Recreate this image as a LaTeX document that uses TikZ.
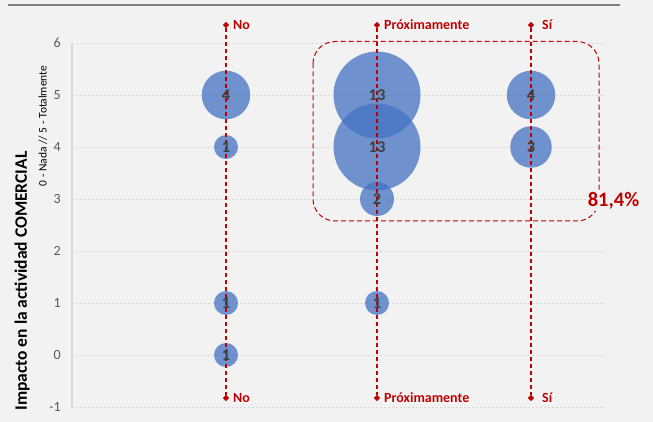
\documentclass[tikz,border=0pt]{standalone}
\usepackage{fontspec}
\setmainfont{Carlito}
\usetikzlibrary{shapes.geometric}
\definecolor{bg}{HTML}{F2F2F2}
\definecolor{redc}{HTML}{C00000}
\definecolor{bub}{HTML}{4472C4}
\definecolor{grid}{HTML}{D9D9D9}
\definecolor{tick}{HTML}{595959}
\definecolor{numc}{HTML}{404040}
\definecolor{topline}{HTML}{808080}
\tikzset{
  bubble/.style={circle, fill=bub, fill opacity=0.75, draw=none, inner sep=0pt, minimum size=#1},
  bnum/.style={text=numc, font=\fontsize{16.5}{16.5}\selectfont\bfseries, inner sep=0pt},
  marker/.style={diamond, fill=redc, draw=none, inner sep=0pt, minimum size=6.5pt},
  catlbl/.style={anchor=west, text=redc, font=\fontsize{14}{14}\selectfont\bfseries, fill=white, fill opacity=0.35, text opacity=1, inner sep=1.5pt},
  catline/.style={draw=redc, line width=1.2pt, dash pattern=on 4pt off 3pt},
  gridline/.style={draw=grid, line width=0.8pt, dash pattern=on 2pt off 2pt},
  ticklbl/.style={anchor=east, text=tick, font=\fontsize{14}{14}\selectfont, inner sep=0pt},
}
\begin{document}
\begin{tikzpicture}[x=1pt,y=-1pt]
\useasboundingbox (0,0) rectangle (653,422);
\fill[bg] (0,0) rectangle (653,422);
% top line
\draw[topline, line width=2.5pt] (8,5) -- (620,5);
% gridlines and ticks
\foreach \v/\yy in {6/43,5/95,4/147,3/199,2/251,1/303,0/355,-1/407}{
  \draw[gridline] (72,\yy) -- (605,\yy);
  \node[ticklbl] (t\v) at (61,\yy) {\v};
}
\draw[grid, line width=1.6pt] (72,43) -- (72,408);
% axis titles
\node[rotate=90, font=\fontsize{17.5}{17.5}\selectfont\bfseries, inner sep=0pt] (ytitle) at (22,281) {Impacto en la actividad COMERCIAL};
\node[rotate=90, font=\fontsize{11.5}{11.5}\selectfont, inner sep=0pt] (ysub) at (43,126) {0 - Nada // 5 - Totalmente};
% bubbles
\node[bubble=48.5pt] (n5) at (226,95) {};
\node[bubble=24pt] (n4) at (226,147) {};
\node[bubble=24pt] (n1) at (226,303) {};
\node[bubble=24pt] (n0) at (226,355) {};
\node[bubble=87pt] (p5) at (377,95) {};
\node[bubble=87pt] (p4) at (377,147) {};
\node[bubble=34pt] (p3) at (377,199) {};
\node[bubble=24pt] (p1) at (377,303) {};
\node[bubble=48.5pt] (s5) at (531,95) {};
\node[bubble=41.5pt] (s4) at (531,147) {};
% category markers and lines
\node[marker] (noT) at (226,25) {};
\node[marker] (noB) at (226,398) {};
\node[marker] (prT) at (377,25) {};
\node[marker] (prB) at (377,398) {};
\node[marker] (siT) at (531,25) {};
\node[marker] (siB) at (531,398) {};
\draw[catline] (noT) -- (noB);
\draw[catline] (prT) -- (prB);
\draw[catline] (siT) -- (siB);
\node[catlbl] (noTl) at ([xshift=2pt]noT.east) {No};
\node[catlbl] (noBl) at ([xshift=2pt]noB.east) {No};
\node[catlbl] (prTl) at ([xshift=2pt]prT.east) {Próximamente};
\node[catlbl] (prBl) at ([xshift=2pt]prB.east) {Próximamente};
\node[catlbl] (siTl) at ([xshift=6pt]siT.east) {Sí};
\node[catlbl] (siBl) at ([xshift=6pt]siB.east) {Sí};
% bubble numbers
\node[bnum] at (n5.center) {4};
\node[bnum] at (n4.center) {1};
\node[bnum] at (n1.center) {1};
\node[bnum] at (n0.center) {1};
\node[bnum] at (p5.center) {13};
\node[bnum] at (p4.center) {13};
\node[bnum] at (p3.center) {2};
\node[bnum] at (p1.center) {1};
\node[bnum] at (s5.center) {4};
\node[bnum] at (s4.center) {3};
% grouping box
\draw[redc, line width=1pt, dash pattern=on 5pt off 3pt, rounded corners=22pt] (313,41.5) rectangle (599,221);
\node[fill=bg, text=redc, font=\fontsize{20.5}{20.5}\selectfont\bfseries, inner sep=2pt] (pct) at (613.5,201) {81,4\%};
\end{tikzpicture}
\end{document}
